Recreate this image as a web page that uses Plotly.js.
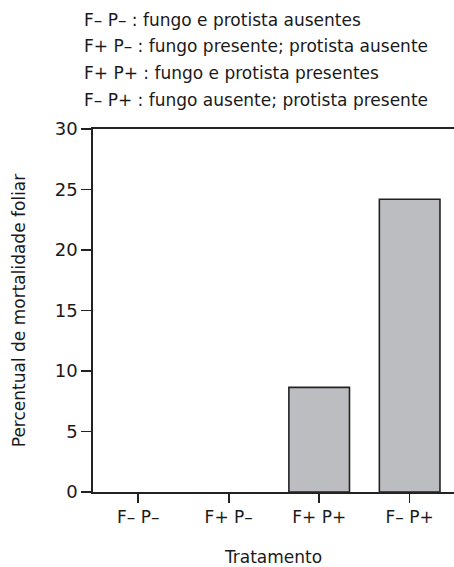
<!DOCTYPE html>
<html>
<head>
<meta charset="utf-8">
<script src="https://cdn.plot.ly/plotly-3.0.1.min.js"></script>
<style>html,body{margin:0;padding:0;background:#fff;}</style>
</head>
<body>
<div id="chart" style="width:454px;height:567px;"></div>
<script>
const categories = ["F– P–", "F+ P–", "F+ P+", "F– P+"];
const mortality = [0, 0, 8.65, 24.2];
const legendLines = [
  "F– P– : fungo e protista ausentes",
  "F+ P– : fungo presente; protista ausente",
  "F+ P+ : fungo e protista presentes",
  "F– P+ : fungo ausente; protista presente"
];
const yTicks = [0, 5, 10, 15, 20, 25, 30];

const font = "DejaVu Sans, Verdana, sans-serif";
const txt = "#1a1a1a";

const trace = {
  type: "bar",
  x: [0, 1, 2, 3],
  y: mortality,
  width: 0.67,
  marker: {color: "#bcbdc1", line: {color: "#222", width: mortality.map(v => v > 0 ? 1.6 : 0)}},
  hoverinfo: "skip"
};

const legendY = [20, 46.5, 73, 99.5];
const annotations = legendLines.map((t, i) => ({
  text: t, xref: "paper", yref: "paper",
  x: (82 - 93) / 361, y: (492 - legendY[i]) / 363,
  xanchor: "left", yanchor: "middle", showarrow: false,
  font: {family: font, size: 17, color: txt}
}));

const layout = {
  width: 454, height: 567,
  margin: {l: 93, r: 0, t: 129, b: 75},
  paper_bgcolor: "#fff", plot_bgcolor: "#fff",
  showlegend: false,
  font: {family: font, size: 17, color: txt},
  xaxis: {
    range: [-0.5, 3.49],
    tickvals: [0, 1, 2, 3], ticktext: categories,
    ticks: "outside", ticklen: 9, tickwidth: 1.6, tickcolor: "#222",
    showline: true, linecolor: "#222", linewidth: 1.8, mirror: true,
    showgrid: false, zeroline: false, fixedrange: true,
    tickfont: {family: font, size: 17, color: txt},
    title: {text: "Tratamento", font: {family: font, size: 17, color: txt}, standoff: 28}
  },
  yaxis: {
    range: [0, 30],
    tickvals: yTicks,
    ticks: "outside", ticklen: 10, tickwidth: 1.6, tickcolor: "#222",
    showline: true, linecolor: "#222", linewidth: 1.8,
    showgrid: false, zeroline: false, fixedrange: true,
    tickfont: {family: font, size: 18, color: txt},
    title: {text: "Percentual de mortalidade foliar", font: {family: font, size: 17, color: txt}, standoff: 25}
  },
  annotations: annotations
};

Plotly.newPlot("chart", [trace], layout, {staticPlot: true, displayModeBar: false});
</script>
</body>
</html>
